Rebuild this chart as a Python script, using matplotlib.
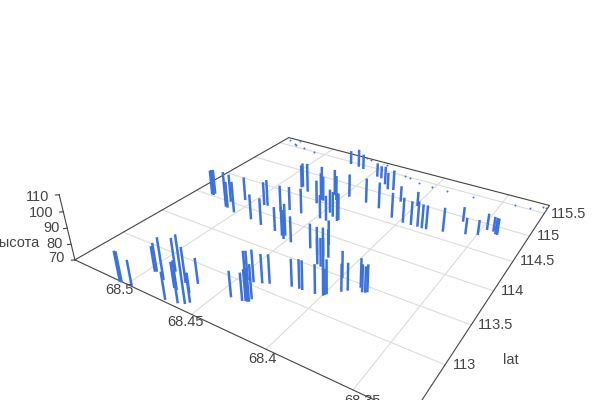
import numpy as np
import matplotlib
matplotlib.use("Agg")
import matplotlib.pyplot as plt

plt.rcParams["font.family"] = ["Liberation Sans", "DejaVu Sans"]

# bars: lat, lon and height of the top end (all start at the floor)
bar_lat = [112.445,112.447,112.456,112.704,112.713,112.658,112.472,112.799,112.519,112.617,112.626,112.495,112.727,112.553,112.643,112.772,112.782,112.793,113.026,113.037,112.808,112.808,112.851,112.815,113.039,113.066,113.095,113.160,113.171,113.170,113.182,113.198,113.229,113.213,113.322,113.484,113.362,113.454,113.406,113.415,113.429,113.721,113.543,113.663,113.529,113.682,113.521,113.681,113.857,114.023,
           114.020,114.050,113.897,113.891,114.005,113.853,114.113,113.837,113.804,114.135,114.142,113.788,114.114,113.756,113.718,113.773,114.190,113.708,114.198,114.660,114.679,114.612,114.452,114.534,114.663,114.535,114.216,114.209,114.362,114.310,114.703,114.620,114.262,114.285,115.446,115.431,115.407,115.321,115.310,115.204,115.117,115.134,114.753,114.735,114.702,114.606,114.945,114.578,114.581,114.586,114.582,114.587,114.955,114.632,114.910,114.703,114.754,114.887,114.890,114.855,114.852]
bar_lon = [68.5051,68.5038,68.4962,68.4954,68.4944,68.4851,68.4708,68.4851,68.4591,68.4719,68.4744,68.4629,68.4723,68.4576,68.4640,68.4657,68.4417,68.4344,68.4453,68.4441,68.4328,68.4317,68.4309,68.4309,68.4398,68.4350,68.4312,68.4189,68.4142,68.4121,68.4041,68.3994,68.3984,68.3990,68.3927,68.3988,68.3902,68.3854,68.3826,68.3810,68.3801,68.4321,68.4188,68.4244,68.4158,68.4209,68.4136,68.4170,68.4244,68.5316,68.5300,68.5304,68.5112,68.5093,68.5130,
           68.5014,68.5060,68.4856,68.4754,68.4901,68.4875,68.4630,68.4748,68.4557,68.4525,68.4539,68.4709,68.4463,68.4616,68.4831,68.4828,68.4755,68.4604,68.4604,68.4653,68.4585,68.4470,68.4419,68.4454,68.4409,68.4561,68.4512,68.4355,68.4354,68.4726,68.4649,68.4598,68.4442,68.4403,68.4333,68.4279,68.4239,68.4459,68.4314,68.4200,68.4065,68.4114,68.3972,68.3914,68.3868,68.3835,68.3806,68.3987,68.3701,68.3637,68.3565,68.3494,68.3465,68.3423,68.3401,68.3389]
bar_top = [89,89,86,86,88,96,87,91,110,88,86,88,92,88,82,86,86,87,88,88,89,89,91,90,90,88,88,87,88,88,88,88,91,86,87,87,87,88,87,86,87,86,87,88,88,88,89,88,86,87,88,87,94,88,89,91,86,87,88,86,88,86,88,89,89,91,86,87,87,86,87,90,86,89,89,87,86,87,86,87,88,87,89,88,80,83,81,80,79,83,82,84,86,87,88,87,81,87,86,87,86,86,80,86,80,81,80,81,80,81,81]

# the small dots along the back edge
dot_lat = [115.626,115.567,115.551,115.669,115.529,115.495,115.687,115.673,115.636,115.549,115.502,115.483,115.443,115.427,115.423,115.447,115.500,115.535,115.617,115.616]
dot_lon = [68.5414,68.5330,68.5309,68.5327,68.5216,68.5102,68.4676,68.4631,68.4469,68.4379,68.4268,68.4216,68.4129,68.4021,68.3898,68.3710,68.3412,68.3314,68.3238,68.3221]

lat_ticks = [113, 113.5, 114, 114.5, 115, 115.5]
lon_ticks = [68.35, 68.4, 68.45, 68.5]
z_ticks = [70, 80, 90, 100, 110]

lat_lim = (112.4522, 115.6894)
lon_lim = (68.3208, 68.5455)
z_lim = (70, 110)

blue = "#3b72de"
axis_col = "#444444"
grid_col = "#dcdcdc"

fig = plt.figure(figsize=(6, 4), dpi=100)
ax = fig.add_subplot(projection="3d")
ax.view_init(elev=29.0039, azim=-147.6193)
ax.set_proj_type("persp", focal_length=0.2344)
ax.set_box_aspect((1, 1.0126, 0.2023))
ax.set_xlim(lat_lim)
ax.set_ylim(lon_lim)
ax.set_zlim(z_lim)
ax.set_axis_off()
# scene is bigger than the canvas, the front corner falls off the bottom
side = 486.8
ax.set_position([79.47 / 600, (400 + 36.17 - side) / 400, side / 600, side / 400])

# floor grid
for v in lat_ticks:
    ax.plot([v, v], lon_lim, [70, 70], color=grid_col, lw=0.8, clip_on=False)
for v in lon_ticks:
    ax.plot(lat_lim, [v, v], [70, 70], color=grid_col, lw=0.8, clip_on=False)

# floor outline
xs = [lat_lim[0], lat_lim[1], lat_lim[1], lat_lim[0], lat_lim[0]]
ys = [lon_lim[1], lon_lim[1], lon_lim[0], lon_lim[0], lon_lim[1]]
ax.plot(xs, ys, [70] * 5, color=axis_col, lw=0.8, clip_on=False)

# height axis with its ticks
ax.plot([lat_lim[0]] * 2, [lon_lim[1]] * 2, z_lim, color=axis_col, lw=0.8, clip_on=False)
for v in z_ticks:
    ax.plot([lat_lim[0], lat_lim[0] - 0.02], [lon_lim[1], lon_lim[1] + 0.0015], [v, v], color=axis_col, lw=0.8, clip_on=False)

for a, o, z in zip(bar_lat, bar_lon, bar_top):
    ax.plot([a, a], [o, o], [70, z], color=blue, lw=1.8, solid_capstyle="butt")
ax.scatter(dot_lat, dot_lon, [70] * len(dot_lat), color=blue, s=2, linewidths=0, depthshade=False)


def label(x, y, s, ha="center"):
    fig.text(x / 600, 1 - y / 400, s, ha=ha, va="center", fontsize=10.5, color=axis_col)


for s, x, y in zip(["68.5", "68.45", "68.4", "68.35"], [119, 185, 262, 362], [290, 322, 359, 401]):
    label(x, y, s)
for s, x, y in zip(["113", "113.5", "114", "114.5", "115", "115.5"],
                   [464, 496, 513, 538, 549, 569], [365, 325, 291, 261, 236, 214]):
    label(x, y, s)
for s, x, y in zip(["70", "80", "90", "100", "110"], [56, 55, 52, 41, 38], [258, 244, 228, 213, 197]):
    label(x, y, s)
label(511, 360, "lat")
label(39, 243, "высота", ha="right")

fig.savefig("out.png", dpi=100)
